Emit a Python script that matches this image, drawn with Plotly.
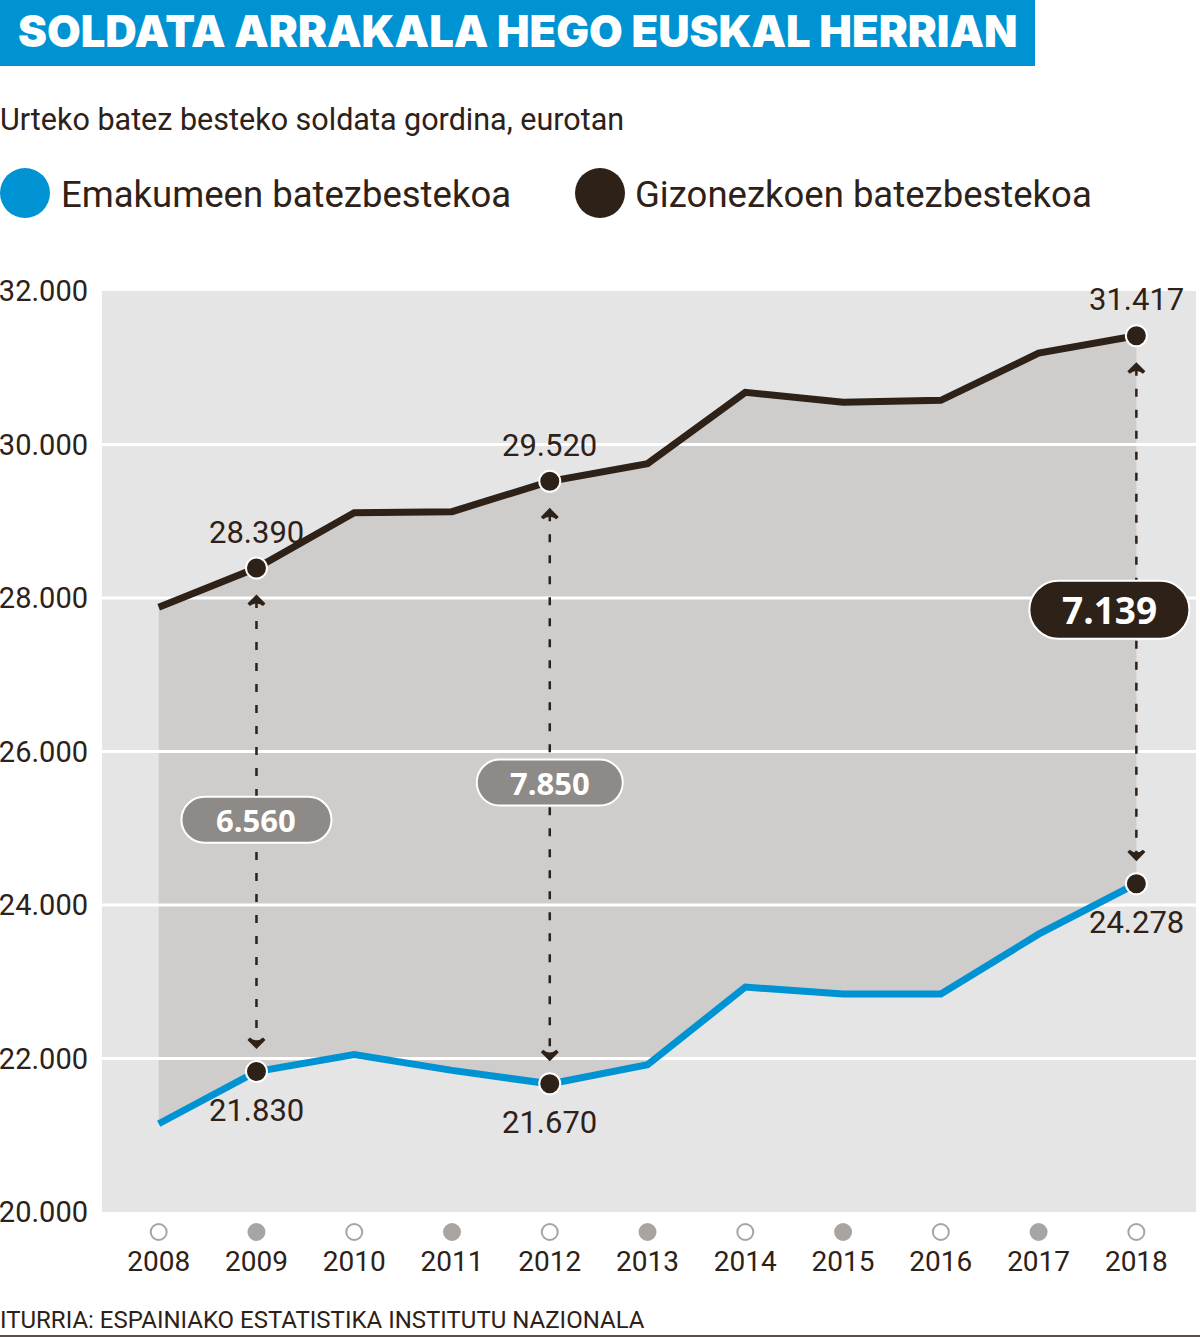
import plotly.graph_objects as go

# ---------------- data ----------------
years = [2008, 2009, 2010, 2011, 2012, 2013, 2014, 2015, 2016, 2017, 2018]
men = [27880, 28390, 29110, 29125, 29520, 29750, 30680, 30550, 30575, 31190, 31417]
women = [21150, 21830, 22050, 21845, 21670, 21920, 22930, 22840, 22840, 23620, 24278]
highlight_years = [2009, 2012, 2018]
gap_labels = ["6.560", "7.850", "7.139"]
y_ticks = [20000, 22000, 24000, 26000, 28000, 30000, 32000]

title = "SOLDATA ARRAKALA HEGO EUSKAL HERRIAN"
subtitle = "Urteko batez besteko soldata gordina, eurotan"
legend_women = "Emakumeen batezbestekoa"
legend_men = "Gizonezkoen batezbestekoa"
source = "ITURRIA: ESPAINIAKO ESTATISTIKA INSTITUTU NAZIONALA"

# ---------------- style ----------------
W, H = 1200, 1337
ML, MR, MT, MB = 102, 4, 291, 125
X_RANGE = [2007.42, 2018.61]
Y_RANGE = [20000, 32000]
BLUE = "#0093d3"
DARK = "#2d2118"
BG = "#e5e5e5"
FILL = "#cfcdcb"
GREYDOT = "#a8a4a2"
BADGE_GREY = "#8e8a87"
NARROW = "Roboto, sans-serif"

plot_h = H - MT - MB
eur_per_px = (Y_RANGE[1] - Y_RANGE[0]) / plot_h


def px_x(px):
    return (px - ML) / (W - ML - MR)


def px_y(py):
    return (H - MB - py) / plot_h


fig = go.Figure()

# fill between the two series
fig.add_trace(go.Scatter(x=years, y=women, mode="lines", line=dict(width=0),
                         hoverinfo="skip", showlegend=False))
fig.add_trace(go.Scatter(x=years, y=men, mode="lines", line=dict(width=0),
                         fill="tonexty", fillcolor=FILL, hoverinfo="skip", showlegend=False))

# white gridlines drawn above the fill
for v in y_ticks:
    if Y_RANGE[0] < v < Y_RANGE[1]:
        fig.add_trace(go.Scatter(x=X_RANGE, y=[v, v], mode="lines",
                                 line=dict(color="white", width=3),
                                 hoverinfo="skip", showlegend=False))

# dashed gap arrows
for yr in highlight_years:
    i = years.index(yr)
    top = men[i] - 32 * eur_per_px
    bot = women[i] + 28 * eur_per_px
    fig.add_trace(go.Scatter(x=[yr, yr], y=[top, bot], mode="lines",
                             line=dict(color=DARK, width=2.5, dash="8px,13px"),
                             hoverinfo="skip", showlegend=False))
    fig.add_trace(go.Scatter(x=[yr, yr],
                             y=[men[i] - 29 * eur_per_px, women[i] + 25 * eur_per_px],
                             mode="markers",
                             marker=dict(symbol="arrow-wide", size=11, color=DARK,
                                         angle=[0, 180], line=dict(width=3.5, color=DARK)),
                             hoverinfo="skip", showlegend=False))

# series lines
fig.add_trace(go.Scatter(x=years, y=women, mode="lines",
                         line=dict(color=BLUE, width=7), name=legend_women, showlegend=False))
fig.add_trace(go.Scatter(x=years, y=men, mode="lines",
                         line=dict(color=DARK, width=7), name=legend_men, showlegend=False))

# highlighted points
hx = list(highlight_years)
hm = [men[years.index(y)] for y in highlight_years]
hw = [women[years.index(y)] for y in highlight_years]
for ys in (hm, hw):
    fig.add_trace(go.Scatter(x=hx, y=ys, mode="markers",
                             marker=dict(size=21, color=DARK, line=dict(color="white", width=2)),
                             hoverinfo="skip", showlegend=False))

annotations = []
shapes = []

# axis dots under the plot
for k, yr in enumerate(years):
    shapes.append(dict(type="circle", xref="x", yref="paper", xsizemode="pixel", ysizemode="pixel",
                       xanchor=yr, yanchor=px_y(1232), x0=-8, x1=8, y0=-8, y1=8,
                       fillcolor="white" if k % 2 == 0 else GREYDOT,
                       line=dict(color=GREYDOT, width=2), layer="above"))

# value labels
for yr in highlight_years:
    i = years.index(yr)
    lab_m = f"{men[i]:,}".replace(",", ".")
    lab_w = f"{women[i]:,}".replace(",", ".")
    annotations.append(dict(x=yr, y=men[i], text=lab_m, showarrow=False, yshift=36,
                            font=dict(family=NARROW, size=31, color=DARK)))
    annotations.append(dict(x=yr, y=women[i], text=lab_w, showarrow=False, yshift=-39,
                            font=dict(family=NARROW, size=31, color=DARK)))


def pill(xc, yc, w, h, color, xshift=0):
    r = h / 2
    k = 0.5523 * r
    L = -w / 2 + xshift
    R = w / 2 + xshift
    p = (f"M{L + r},{-r} L{R - r},{-r} "
         f"C{R - r + k},{-r} {R},{-k} {R},0 "
         f"C{R},{k} {R - r + k},{r} {R - r},{r} "
         f"L{L + r},{r} "
         f"C{L + r - k},{r} {L},{k} {L},0 "
         f"C{L},{-k} {L + r - k},{-r} {L + r},{-r} Z")
    return dict(type="path", path=p, xref="x", yref="y", xsizemode="pixel", ysizemode="pixel",
                xanchor=xc, yanchor=yc, fillcolor=color, line=dict(color="white", width=2),
                layer="above")


badge_specs = [(150, 46, BADGE_GREY, 0, 31), (146, 46, BADGE_GREY, 0, 31), (160, 58, DARK, -27, 37)]
for yr, lab, (bw, bh, bc, xs, fs) in zip(highlight_years, gap_labels, badge_specs):
    i = years.index(yr)
    mid = (men[i] + women[i]) / 2
    shapes.append(pill(yr, mid, bw, bh, bc, xs))
    annotations.append(dict(x=yr, y=mid, text=f"<b>{lab}</b>", showarrow=False, xshift=xs,
                            font=dict(family="Open Sans, sans-serif", size=fs, color="white")))

# title bar
shapes.append(dict(type="rect", xref="paper", yref="paper", x0=px_x(0), x1=px_x(1035),
                   y0=px_y(66), y1=px_y(0), fillcolor=BLUE, line=dict(width=0), layer="above"))
annotations.append(dict(xref="paper", yref="paper", x=px_x(16), y=px_y(31), text=title,
                        xanchor="left", yanchor="middle", showarrow=False,
                        font=dict(family="Inter, sans-serif", size=43.5, color="white", weight=900)))
annotations.append(dict(xref="paper", yref="paper", x=px_x(-2), y=px_y(120), text=subtitle,
                        xanchor="left", yanchor="middle", showarrow=False,
                        font=dict(family=NARROW, size=30.5, color=DARK)))
# legend
for cx, col, txt, tx in [(25, BLUE, legend_women, 59), (600, DARK, legend_men, 633)]:
    shapes.append(dict(type="circle", xref="paper", yref="paper",
                       x0=px_x(cx - 25), x1=px_x(cx + 25), y0=px_y(218), y1=px_y(168),
                       fillcolor=col, line=dict(width=0), layer="above"))
    annotations.append(dict(xref="paper", yref="paper", x=px_x(tx), y=px_y(195), text=txt,
                            xanchor="left", yanchor="middle", showarrow=False,
                            font=dict(family=NARROW, size=36.5, color=DARK)))
# source
annotations.append(dict(xref="paper", yref="paper", x=px_x(-2), y=px_y(1320), text=source,
                        xanchor="left", yanchor="middle", showarrow=False,
                        font=dict(family=NARROW, size=24, color=DARK)))
shapes.append(dict(type="line", xref="paper", yref="paper", x0=px_x(0), x1=px_x(1200),
                   y0=px_y(1336), y1=px_y(1336), line=dict(color="#5a504a", width=2)))

fig.update_layout(
    width=W, height=H,
    margin=dict(l=ML, r=MR, t=MT, b=MB, pad=0),
    paper_bgcolor="white", plot_bgcolor=BG,
    showlegend=False,
    shapes=shapes, annotations=annotations,
    xaxis=dict(range=X_RANGE, showgrid=False, zeroline=False, showline=False, automargin=False,
               tickvals=years, ticktext=[str(y) for y in years], ticks="",
               ticklabelstandoff=30,
               tickfont=dict(family=NARROW, size=28, color=DARK), fixedrange=True),
    yaxis=dict(range=Y_RANGE, showgrid=False, zeroline=False, showline=False, automargin=False,
               tickvals=y_ticks, ticktext=[f"{v:,}".replace(",", ".") for v in y_ticks],
               ticks="", ticklabelstandoff=13,
               tickfont=dict(family=NARROW, size=29, color=DARK), fixedrange=True),
)

fig.write_html("out.html", config={"displayModeBar": False},
               post_script="document.body.style.margin='0';document.body.style.overflow='hidden';")
